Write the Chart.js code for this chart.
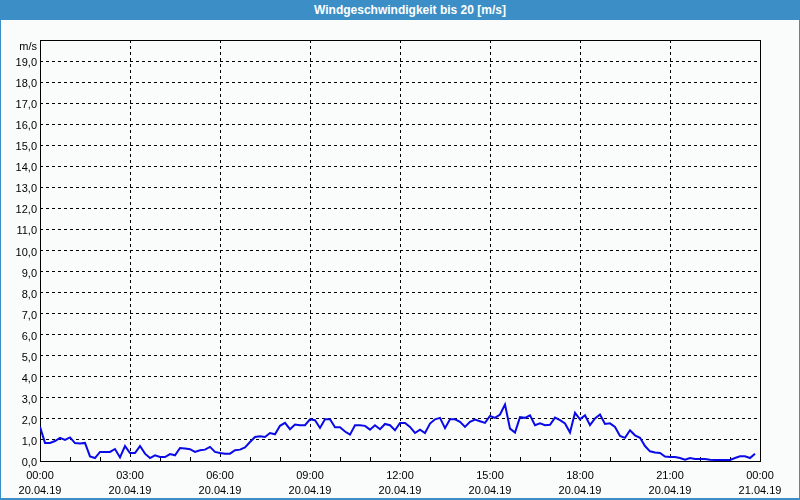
<!DOCTYPE html>
<html>
<head>
<meta charset="utf-8">
<script src="https://cdn.jsdelivr.net/npm/chart.js@4"></script>
<style>
  html, body { margin: 0; padding: 0; background: #f9fcfa; }
  #frame { position: relative; width: 800px; height: 500px; box-sizing: border-box;
           border: 1px solid #3c8fc6; border-top: none; border-bottom-width: 2px; }
  #titleBar { position: absolute; left: -1px; top: 0; width: 800px; height: 20px; box-sizing: border-box;
              padding-left: 20px; background: #3c8fc6; color: #fff;
              font: bold 12px "Liberation Sans", Arial, sans-serif;
              text-align: center; line-height: 20px; }
  #wrap { position: absolute; left: -1px; top: 20px; width: 800px; height: 480px; }
</style>
</head>
<body>
<div id="frame">
  <div id="titleBar">Windgeschwindigkeit bis 20 [m/s]</div>
  <div id="wrap"><canvas id="windChart" width="800" height="480"></canvas></div>
</div>
<script>
// Messwerte alle 10 Minuten ab 20.04.19 00:00 (m/s)
const sampleStepHours = 1 / 6;
const windSpeed = [
  1.62, 0.86, 0.86, 0.95, 1.10, 1.00, 1.12, 0.85, 0.83, 0.86, 0.22, 0.14,
  0.43, 0.43, 0.43, 0.57, 0.17, 0.71, 0.38, 0.38, 0.71, 0.35, 0.14, 0.27,
  0.19, 0.19, 0.33, 0.27, 0.62, 0.59, 0.56, 0.43, 0.51, 0.54, 0.67, 0.43,
  0.38, 0.35, 0.35, 0.51, 0.54, 0.65, 0.90, 1.14, 1.17, 1.14, 1.33, 1.27,
  1.67, 1.81, 1.51, 1.73, 1.70, 1.70, 1.98, 1.94, 1.57, 1.98, 1.98, 1.60,
  1.60, 1.40, 1.25, 1.70, 1.70, 1.67, 1.49, 1.70, 1.51, 1.76, 1.70, 1.46,
  1.81, 1.81, 1.62, 1.33, 1.49, 1.33, 1.78, 1.98, 2.05, 1.56, 1.98, 1.98,
  1.86, 1.62, 1.86, 1.97, 1.89, 1.81, 2.14, 2.05, 2.21, 2.68, 1.54, 1.35,
  2.08, 2.05, 2.17, 1.70, 1.79, 1.70, 1.72, 2.06, 1.94, 1.78, 1.35, 2.29,
  1.98, 2.17, 1.70, 2.02, 2.21, 1.76, 1.79, 1.62, 1.19, 1.10, 1.46, 1.22,
  1.10, 0.71, 0.46, 0.40, 0.38, 0.21, 0.19, 0.19, 0.14, 0.06, 0.14, 0.10,
  0.10, 0.10, 0.06, 0.05, 0.05, 0.05, 0.05, 0.14, 0.22, 0.22, 0.14, 0.35
];

// Achsen
const tickTimes = ['00:00', '03:00', '06:00', '09:00', '12:00', '15:00', '18:00', '21:00', '00:00'];
const tickDates = ['20.04.19', '20.04.19', '20.04.19', '20.04.19', '20.04.19', '20.04.19', '20.04.19', '20.04.19', '21.04.19'];
const yMax = 20;
const unitLabel = 'm/s';

const points = windSpeed.map((v, i) => ({ x: i * sampleStepHours, y: v }));
const font = { family: '"Liberation Sans", Arial, sans-serif', size: 11 };

// Rahmen, Einheit und kleine Stundenstriche
const framePlugin = {
  id: 'frame',
  beforeDatasetsDraw(chart) {
    const { ctx, chartArea: a, scales } = chart;
    ctx.save();
    ctx.strokeStyle = '#000';
    ctx.lineWidth = 1;
    ctx.setLineDash([]);
    ctx.strokeRect(a.left + 0.5, a.top + 0.5, a.right - a.left, a.bottom - a.top);
    ctx.beginPath();
    for (let h = 1; h < 24; h++) {
      if (h % 3 === 0) continue;
      const x = Math.round(scales.x.getPixelForValue(h)) + 0.5;
      ctx.moveTo(x, a.bottom);
      ctx.lineTo(x, a.bottom - 4);
    }
    ctx.stroke();
    ctx.fillStyle = '#000';
    ctx.font = '11px "Liberation Sans", Arial, sans-serif';
    ctx.textAlign = 'right';
    ctx.textBaseline = 'middle';
    ctx.fillText(unitLabel, a.left - 3, a.top + 7);
    ctx.restore();
  }
};

new Chart(document.getElementById('windChart'), {
  type: 'line',
  data: {
    datasets: [{
      data: points,
      borderColor: '#0a0ae6',
      borderWidth: 2,
      pointRadius: 0,
      tension: 0,
      fill: false
    }]
  },
  options: {
    responsive: false,
    devicePixelRatio: 1,
    animation: false,
    layout: { padding: { top: 20, right: 40, left: 0, bottom: 0 } },
    plugins: { legend: { display: false }, tooltip: { enabled: false } },
    scales: {
      x: {
        type: 'linear',
        min: 0,
        max: 24,
        afterFit(scale) { scale.height = 39; },
        afterBuildTicks(scale) { scale.ticks = tickTimes.map((t, i) => ({ value: i * 3 })); },
        ticks: {
          color: '#000',
          font: { ...font, lineHeight: 1.35 },
          padding: 8,
          maxRotation: 0,
          autoSkip: false,
          callback: (v) => [tickTimes[v / 3], tickDates[v / 3]]
        },
        grid: { color: '#000', lineWidth: 1, drawTicks: false },
        border: { display: false, dash: [3, 3] }
      },
      y: {
        min: 0,
        max: yMax,
        afterFit(scale) { scale.width = 40; },
        ticks: {
          stepSize: 1,
          color: '#000',
          font,
          padding: 3,
          labelOffset: 2,
          callback: (v) => v === yMax ? '' : v.toFixed(1).replace('.', ',')
        },
        grid: { color: '#000', lineWidth: 1, drawTicks: false },
        border: { display: false, dash: [3, 3] }
      }
    }
  },
  plugins: [framePlugin]
});
</script>
</body>
</html>
